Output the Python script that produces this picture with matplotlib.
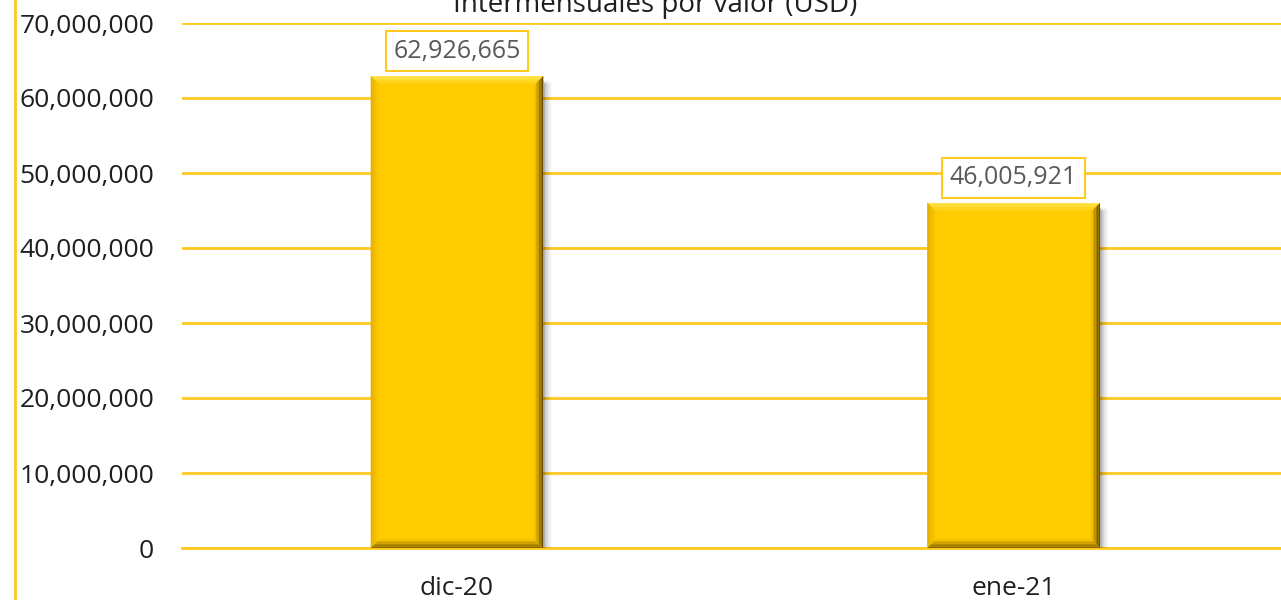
import matplotlib
matplotlib.use("Agg")
import matplotlib.pyplot as plt
from matplotlib.patches import Polygon
from matplotlib.ticker import FuncFormatter, MultipleLocator
from matplotlib.lines import Line2D

# ── datos ────────────────────────────────────────────────────────────────
meses   = ["dic-20", "ene-21"]
valores = [62926665, 46005921]
titulo  = "Intermensuales por valor (USD)"

GOLD   = "#FFCC00"
GRID   = "#FFC91F"
TXT    = "#1F1F1F"
plt.rcParams["font.family"] = ["Open Sans", "DejaVu Sans"]

fig = plt.figure(figsize=(12.81, 6.0), dpi=100)
ax = fig.add_axes([182 / 1281, 52 / 600, 1110 / 1281, 525 / 600])

xs = range(len(meses))
bars = ax.bar(xs, valores, width=0.31, color=GOLD, zorder=3)

ax.set_ylim(0, 70_000_000)
ax.set_xlim(-0.494, len(meses) - 0.5)
ax.yaxis.set_major_locator(MultipleLocator(10_000_000))
ax.yaxis.set_major_formatter(FuncFormatter(lambda v, _: f"{v:,.0f}"))
ax.grid(axis="y", color=GRID, linewidth=2, zorder=0)
ax.set_axisbelow(True)
for s in ["top", "right", "left"]:
    ax.spines[s].set_visible(False)
ax.spines["bottom"].set_color(GRID)
ax.spines["bottom"].set_linewidth(2)
ax.set_xticks(list(xs))
ax.set_xticklabels(meses)
ax.tick_params(axis="both", length=0, labelsize=19, colors=TXT)
ax.tick_params(axis="x", pad=20)
ax.tick_params(axis="y", pad=20)

fig.canvas.draw()
inv = ax.transData.inverted()


def mix(c1, c2, t):
    return tuple(a + (b - a) * t for a, b in zip(c1, c2))


gold = (1.0, 0.8, 0.0)
# bisel + sombra de cada barra, en coordenadas de pantalla
for b in bars:
    x0, y0 = ax.transData.transform((b.get_x(), 0))
    x1, y1 = ax.transData.transform((b.get_x() + b.get_width(), b.get_height()))

    def P(pts, **kw):
        ax.add_patch(Polygon([inv.transform(p) for p in pts], closed=True,
                             lw=0, zorder=4, **kw))

    # sombra a la derecha
    for k, a in enumerate([0.30, 0.18, 0.10, 0.05]):
        P([(x1 + 2 * k, y0), (x1 + 2 * k + 2, y0), (x1 + 2 * k + 2, y1 - 8),
           (x1 + 2 * k, y1 - 4)], color="black", alpha=a)
    e, n = 9, 6
    for i in range(n):
        a, c = e * i / n, e * (i + 1) / n
        t = 1 - (i + 0.5) / n
        P([(x0 + a, y1 - a), (x1 - a, y1 - a), (x1 - c, y1 - c), (x0 + c, y1 - c)],
          color=mix(gold, (1, 0.93, 0.45), t * 0.8))
        P([(x0 + a, y1 - a), (x0 + c, y1 - c), (x0 + c, y0 + c), (x0 + a, y0 + a)],
          color=mix(gold, (0.85, 0.62, 0.0), t * 0.7))
        P([(x1 - a, y1 - a), (x1 - a, y0 + a), (x1 - c, y0 + c), (x1 - c, y1 - c)],
          color=mix(gold, (0.35, 0.25, 0.0), t))
        P([(x0 + a, y0 + a), (x1 - a, y0 + a), (x1 - c, y0 + c), (x0 + c, y0 + c)],
          color=mix(gold, (0.5, 0.37, 0.0), t))

    ax.annotate(f"{b.get_height():,.0f}",
                (b.get_x() + b.get_width() / 2, b.get_height()),
                xytext=(0, 9), textcoords="offset points",
                ha="center", va="bottom", fontsize=18, color="#595959", zorder=6,
                bbox=dict(boxstyle="square,pad=0.3", fc="white", ec=GRID, lw=1.5))

fig.text(655 / 1281, 1 - 12 / 600, titulo, ha="center", va="baseline",
         fontsize=20, color=TXT)
fig.add_artist(Line2D([15 / 1281, 15 / 1281], [0, 1], color=GRID, lw=2))

fig.savefig("out.png", dpi=100)
